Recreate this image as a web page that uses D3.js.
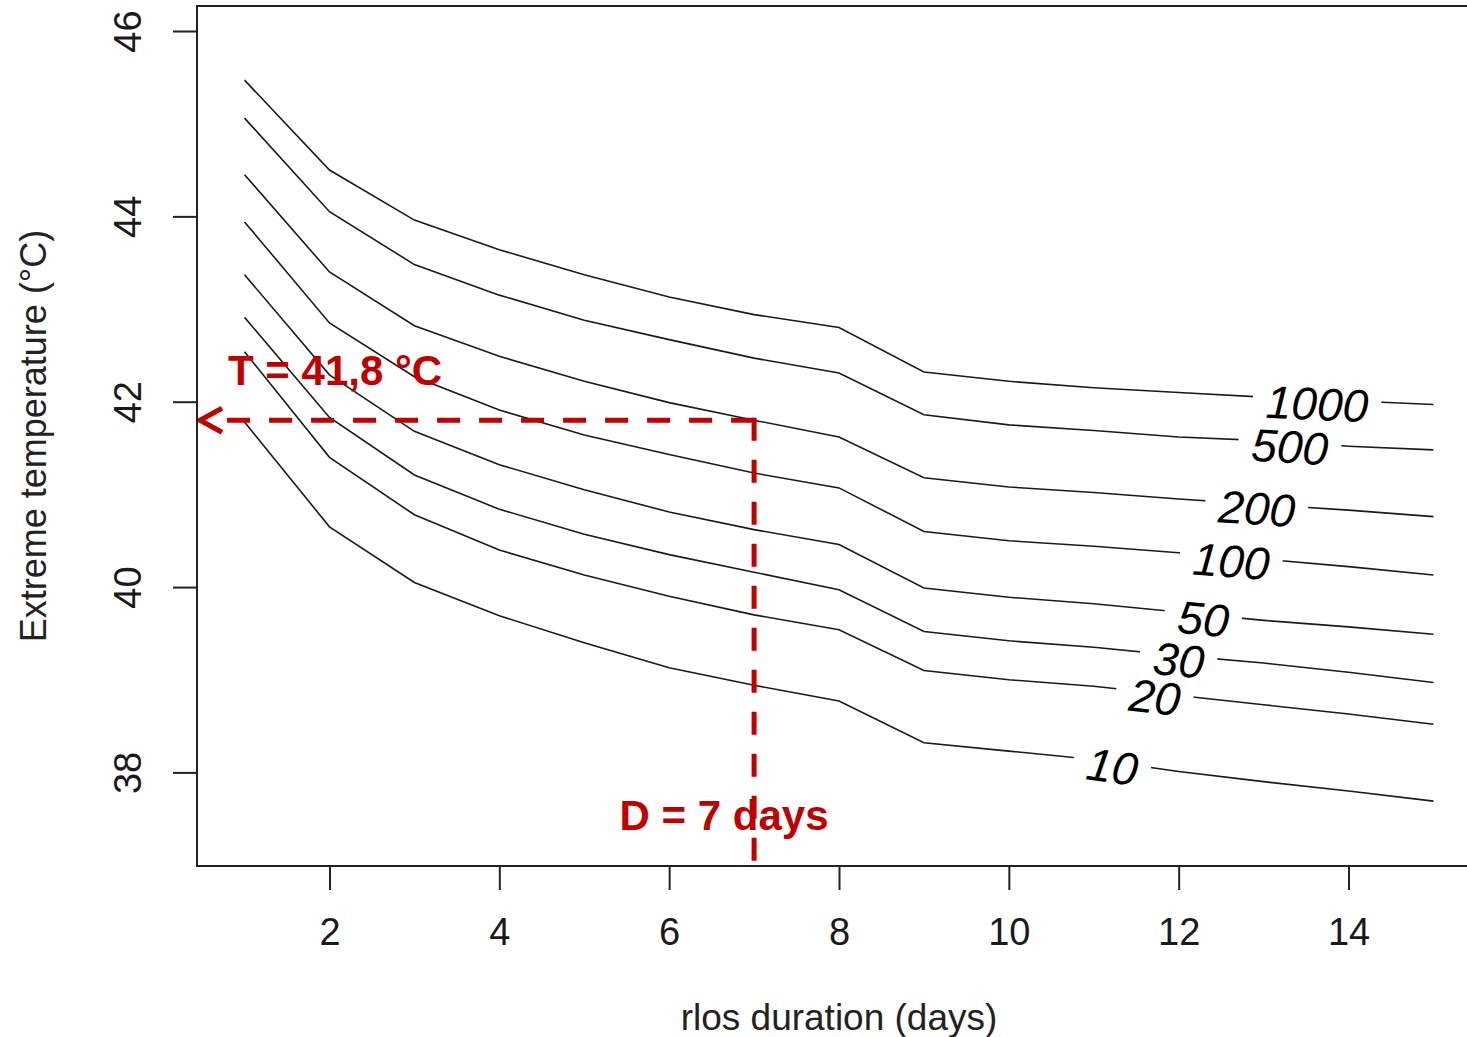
<!DOCTYPE html>
<html>
<head>
<meta charset="utf-8">
<script src="https://cdn.jsdelivr.net/npm/d3@7"></script>
<style>
body{margin:0;background:#fff;}
text{font-family:"Liberation Sans",Arial,sans-serif;}
</style>
</head>
<body>
<div id="chart"></div>
<script>
// durations (days) and return periods (years)
var durations=[1,2,3,4,5,6,7,8,9,10,11,12,13,14,15];
var returnPeriods=[10,20,30,50,100,200,500,1000];

// extreme temperature (°C) per return period
var temp10  =[41.78,40.65,40.05,39.69,39.40,39.13,38.94,38.77,38.32,38.23,38.14,38.01,37.90,37.80,37.69];
var temp20  =[42.54,41.40,40.78,40.40,40.13,39.90,39.70,39.54,39.10,39.00,38.93,38.83,38.73,38.63,38.52];
var temp30  =[42.91,41.83,41.21,40.84,40.57,40.35,40.16,39.97,39.52,39.42,39.35,39.26,39.18,39.08,38.97];
var temp50  =[43.37,42.29,41.68,41.32,41.05,40.81,40.62,40.46,39.99,39.89,39.82,39.73,39.64,39.57,39.49];
var temp100 =[43.94,42.85,42.27,41.91,41.64,41.43,41.23,41.07,40.60,40.50,40.44,40.37,40.30,40.22,40.13];
var temp200 =[44.45,43.40,42.82,42.49,42.22,41.99,41.80,41.62,41.18,41.08,41.02,40.95,40.89,40.83,40.76];
var temp500 =[45.06,44.05,43.48,43.15,42.88,42.67,42.47,42.31,41.86,41.75,41.69,41.62,41.58,41.52,41.48];
var temp1000=[45.47,44.50,43.96,43.64,43.37,43.13,42.94,42.80,42.32,42.22,42.15,42.10,42.05,42.01,41.97];

// where each contour label sits (duration)
var labelDurations=[11.22,11.72,12.0,12.29,12.62,12.92,13.31,13.63];

var xTicks=[2,4,6,8,10,12,14];
var yTicks=[38,40,42,44,46];

var markDuration=7,
    markTemp=41.8;

var width=1467,
    height=1037;

var margin={left:197,top:6},
    plotW=1284,
    plotH=860;

var allTemps=[temp10,temp20,temp30,temp50,temp100,temp200,temp500,temp1000];

var series=returnPeriods.map(function(p,i){
    return {period:p,temps:allTemps[i],labelAt:labelDurations[i]};
});

var x=d3.scaleLinear().domain([0.44,15.56]).range([margin.left,margin.left+plotW]);
var y=d3.scaleLinear().domain([36.99,46.27]).range([margin.top+plotH,margin.top]);

var svg=d3.select("#chart").append("svg")
    .attr("width",width)
    .attr("height",height);

var defs=svg.append("defs");

defs.append("clipPath").attr("id","plotClip")
    .append("rect")
    .attr("x",margin.left).attr("y",margin.top)
    .attr("width",plotW).attr("height",plotH);

var line=d3.line()
    .x(function(d){return x(d[0]);})
    .y(function(d){return y(d[1]);});

function valueAt(temps,d){
    var i=Math.min(Math.floor(d)-1,temps.length-2);
    var t=d-durations[i];
    return temps[i]+t*(temps[i+1]-temps[i]);
}

function angleAt(temps,d){
    var i=Math.min(Math.floor(d)-1,temps.length-2);
    var dx=x(durations[i+1])-x(durations[i]),
        dy=y(temps[i+1])-y(temps[i]);
    return Math.atan2(dy,dx)*180/Math.PI;
}

var plot=svg.append("g").attr("clip-path","url(#plotClip)");

// contour labels first so their widths can size the gaps
var labelG=plot.append("g");

series.forEach(function(s,i){
    var lx=x(s.labelAt),
        ly=y(valueAt(s.temps,s.labelAt)),
        ang=angleAt(s.temps,s.labelAt);

    var t=labelG.append("text")
        .attr("transform","translate("+lx+","+(ly+4)+") rotate("+ang+")")
        .attr("text-anchor","middle")
        .attr("dy","0.36em")
        .style("font-size","46px")
        .style("font-style","italic")
        .attr("fill","#000")
        .text(s.period);

    var w=t.node().getComputedTextLength();
    var pad=13;

    var mask=defs.append("mask").attr("id","gap"+i)
        .attr("maskUnits","userSpaceOnUse")
        .attr("x",0).attr("y",0).attr("width",width).attr("height",height);
    mask.append("rect").attr("x",0).attr("y",0).attr("width",width).attr("height",height).attr("fill","#fff");
    mask.append("rect").attr("x",lx-w/2-pad).attr("y",0).attr("width",w+2*pad).attr("height",height).attr("fill","#000");

    plot.insert("path","g")
        .datum(durations.map(function(d,j){return [d,s.temps[j]];}))
        .attr("d",line)
        .attr("mask","url(#gap"+i+")")
        .attr("fill","none")
        .attr("stroke","#1a1a1a")
        .attr("stroke-width",1.6);
});

// red annotation
var red="#c00000";
var cx=x(markDuration),
    cy=y(markTemp),
    tipX=x(x.domain()[0])+3;

plot.append("line")
    .attr("x1",cx).attr("y1",cy).attr("x2",tipX+8).attr("y2",cy)
    .attr("stroke",red).attr("stroke-width",5)
    .attr("stroke-dasharray","23,19");

plot.append("line")
    .attr("x1",cx).attr("y1",cy-2.5).attr("x2",cx).attr("y2",y(y.domain()[0]))
    .attr("stroke",red).attr("stroke-width",5)
    .attr("stroke-dasharray","23,19");

plot.append("path")
    .attr("d","M"+(tipX+22)+","+(cy-12)+"L"+tipX+","+cy+"L"+(tipX+22)+","+(cy+12))
    .attr("fill","none")
    .attr("stroke",red).attr("stroke-width",5)
    .attr("stroke-linejoin","miter");

svg.append("text")
    .attr("x",tipX+28).attr("y",cy-35)
    .attr("fill",red)
    .style("font-size","42px").style("font-weight","bold")
    .text("T = 41,8 °C");

svg.append("text")
    .attr("x",cx-30).attr("y",y(y.domain()[0])-36)
    .attr("text-anchor","middle")
    .attr("fill",red)
    .style("font-size","42px").style("font-weight","bold")
    .text("D = 7 days");

// box
svg.append("rect")
    .attr("x",margin.left).attr("y",margin.top)
    .attr("width",plotW).attr("height",plotH)
    .attr("fill","none")
    .attr("stroke","#222").attr("stroke-width",2);

// axes
var xAxis=svg.append("g")
    .attr("transform","translate(0,"+(margin.top+plotH)+")")
    .call(d3.axisBottom(x).tickValues(xTicks).tickSize(24).tickPadding(28).tickFormat(d3.format("d")));

var yAxis=svg.append("g")
    .attr("transform","translate("+margin.left+",0)")
    .call(d3.axisLeft(y).tickValues(yTicks).tickSize(24).tickFormat(d3.format("d")));

[xAxis,yAxis].forEach(function(a){
    a.select(".domain").remove();
    a.selectAll(".tick line").attr("stroke","#222").attr("stroke-width",2);
    a.selectAll(".tick text")
        .attr("fill","#1a1a1a")
        .style("font-size","38px")
        .style("font-family","\"Liberation Sans\",Arial,sans-serif");
});

yAxis.selectAll(".tick text")
    .attr("x",0).attr("dy",0)
    .attr("text-anchor","middle")
    .attr("transform","translate(-56,0) rotate(-90)");

svg.append("text")
    .attr("x",margin.left+plotW/2).attr("y",1030)
    .attr("text-anchor","middle")
    .attr("fill","#222")
    .style("font-size","37px")
    .text("rlos duration (days)");

svg.append("text")
    .attr("transform","translate(46,"+(margin.top+plotH/2)+") rotate(-90)")
    .attr("text-anchor","middle")
    .attr("fill","#222")
    .style("font-size","36px")
    .text("Extreme temperature (°C)");
</script>
</body>
</html>
